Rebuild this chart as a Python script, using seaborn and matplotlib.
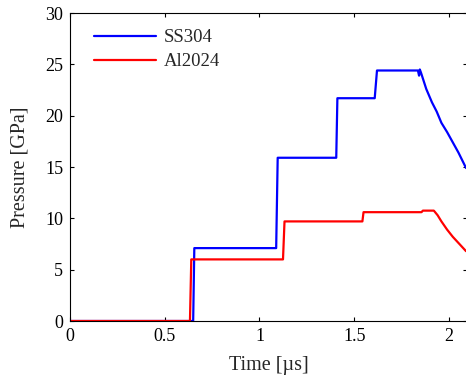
import pandas as pd
import matplotlib.pyplot as plt
import seaborn as sns

# valeurs
ss304_t = [0.0, 0.650, 0.656, 1.088, 1.096, 1.405, 1.411, 1.608, 1.620, 1.836, 1.842, 1.846, 1.852,
           1.88, 1.91, 1.935, 1.96, 1.99, 2.02, 2.05, 2.09]
ss304_p = [0.0, 0.0, 7.1, 7.1, 15.9, 15.9, 21.7, 21.7, 24.4, 24.4, 23.9, 24.5, 24.2,
           22.6, 21.3, 20.4, 19.3, 18.4, 17.4, 16.4, 14.9]

al2024_t = [0.0, 0.633, 0.640, 1.124, 1.132, 1.543, 1.549, 1.855, 1.862, 1.920, 1.94, 1.96, 1.99,
            2.02, 2.05, 2.09]
al2024_p = [0.0, 0.0, 6.0, 6.0, 9.7, 9.7, 10.6, 10.6, 10.75, 10.75, 10.3, 9.7, 8.9,
            8.2, 7.6, 6.8]

df = pd.concat([
    pd.DataFrame({"t": ss304_t, "p": ss304_p, "mat": "SS304"}),
    pd.DataFrame({"t": al2024_t, "p": al2024_p, "mat": "Al2024"}),
])

sns.set_style("ticks")
plt.rcParams['font.family'] = ['Liberation Serif', 'DejaVu Serif']

fig = plt.figure(figsize=(4.66, 3.8), dpi=100)
ax = fig.add_axes([70 / 466, 59 / 380, 397 / 466, 308 / 380])

sns.lineplot(data=df, x="t", y="p", hue="mat", hue_order=["SS304", "Al2024"],
             palette={"SS304": "#0000ff", "Al2024": "#ff0000"},
             sort=False, estimator=None, linewidth=1.6, ax=ax)

ax.set_xlim(0, 2.095)
ax.set_ylim(0, 30)
ax.set_xticks([0, 0.5, 1, 1.5, 2])
ax.set_xticklabels(["0", "0.5", "1", "1.5", "2"])
ax.set_yticks([0, 5, 10, 15, 20, 25, 30])
ax.tick_params(direction="in", top=True, right=True, length=3, width=0.8,
               labelsize=13, colors="black", pad=5)
for s in ax.spines.values():
    s.set_color("black")
    s.set_linewidth(0.8)

ax.set_xlabel("Time [µs]", fontsize=14.5, labelpad=8)
ax.set_ylabel("Pressure [GPa]", fontsize=14.5, labelpad=11)

leg = ax.legend(loc="upper left", frameon=False, fontsize=13.5, handlelength=3.3,
                handletextpad=0.4, labelspacing=0.38, borderaxespad=0.0, borderpad=0.0,
                bbox_to_anchor=(24 / 397, 1 - 16 / 308))
for h in leg.get_lines():
    h.set_linewidth(1.6)

fig.savefig("out.png", dpi=100)
